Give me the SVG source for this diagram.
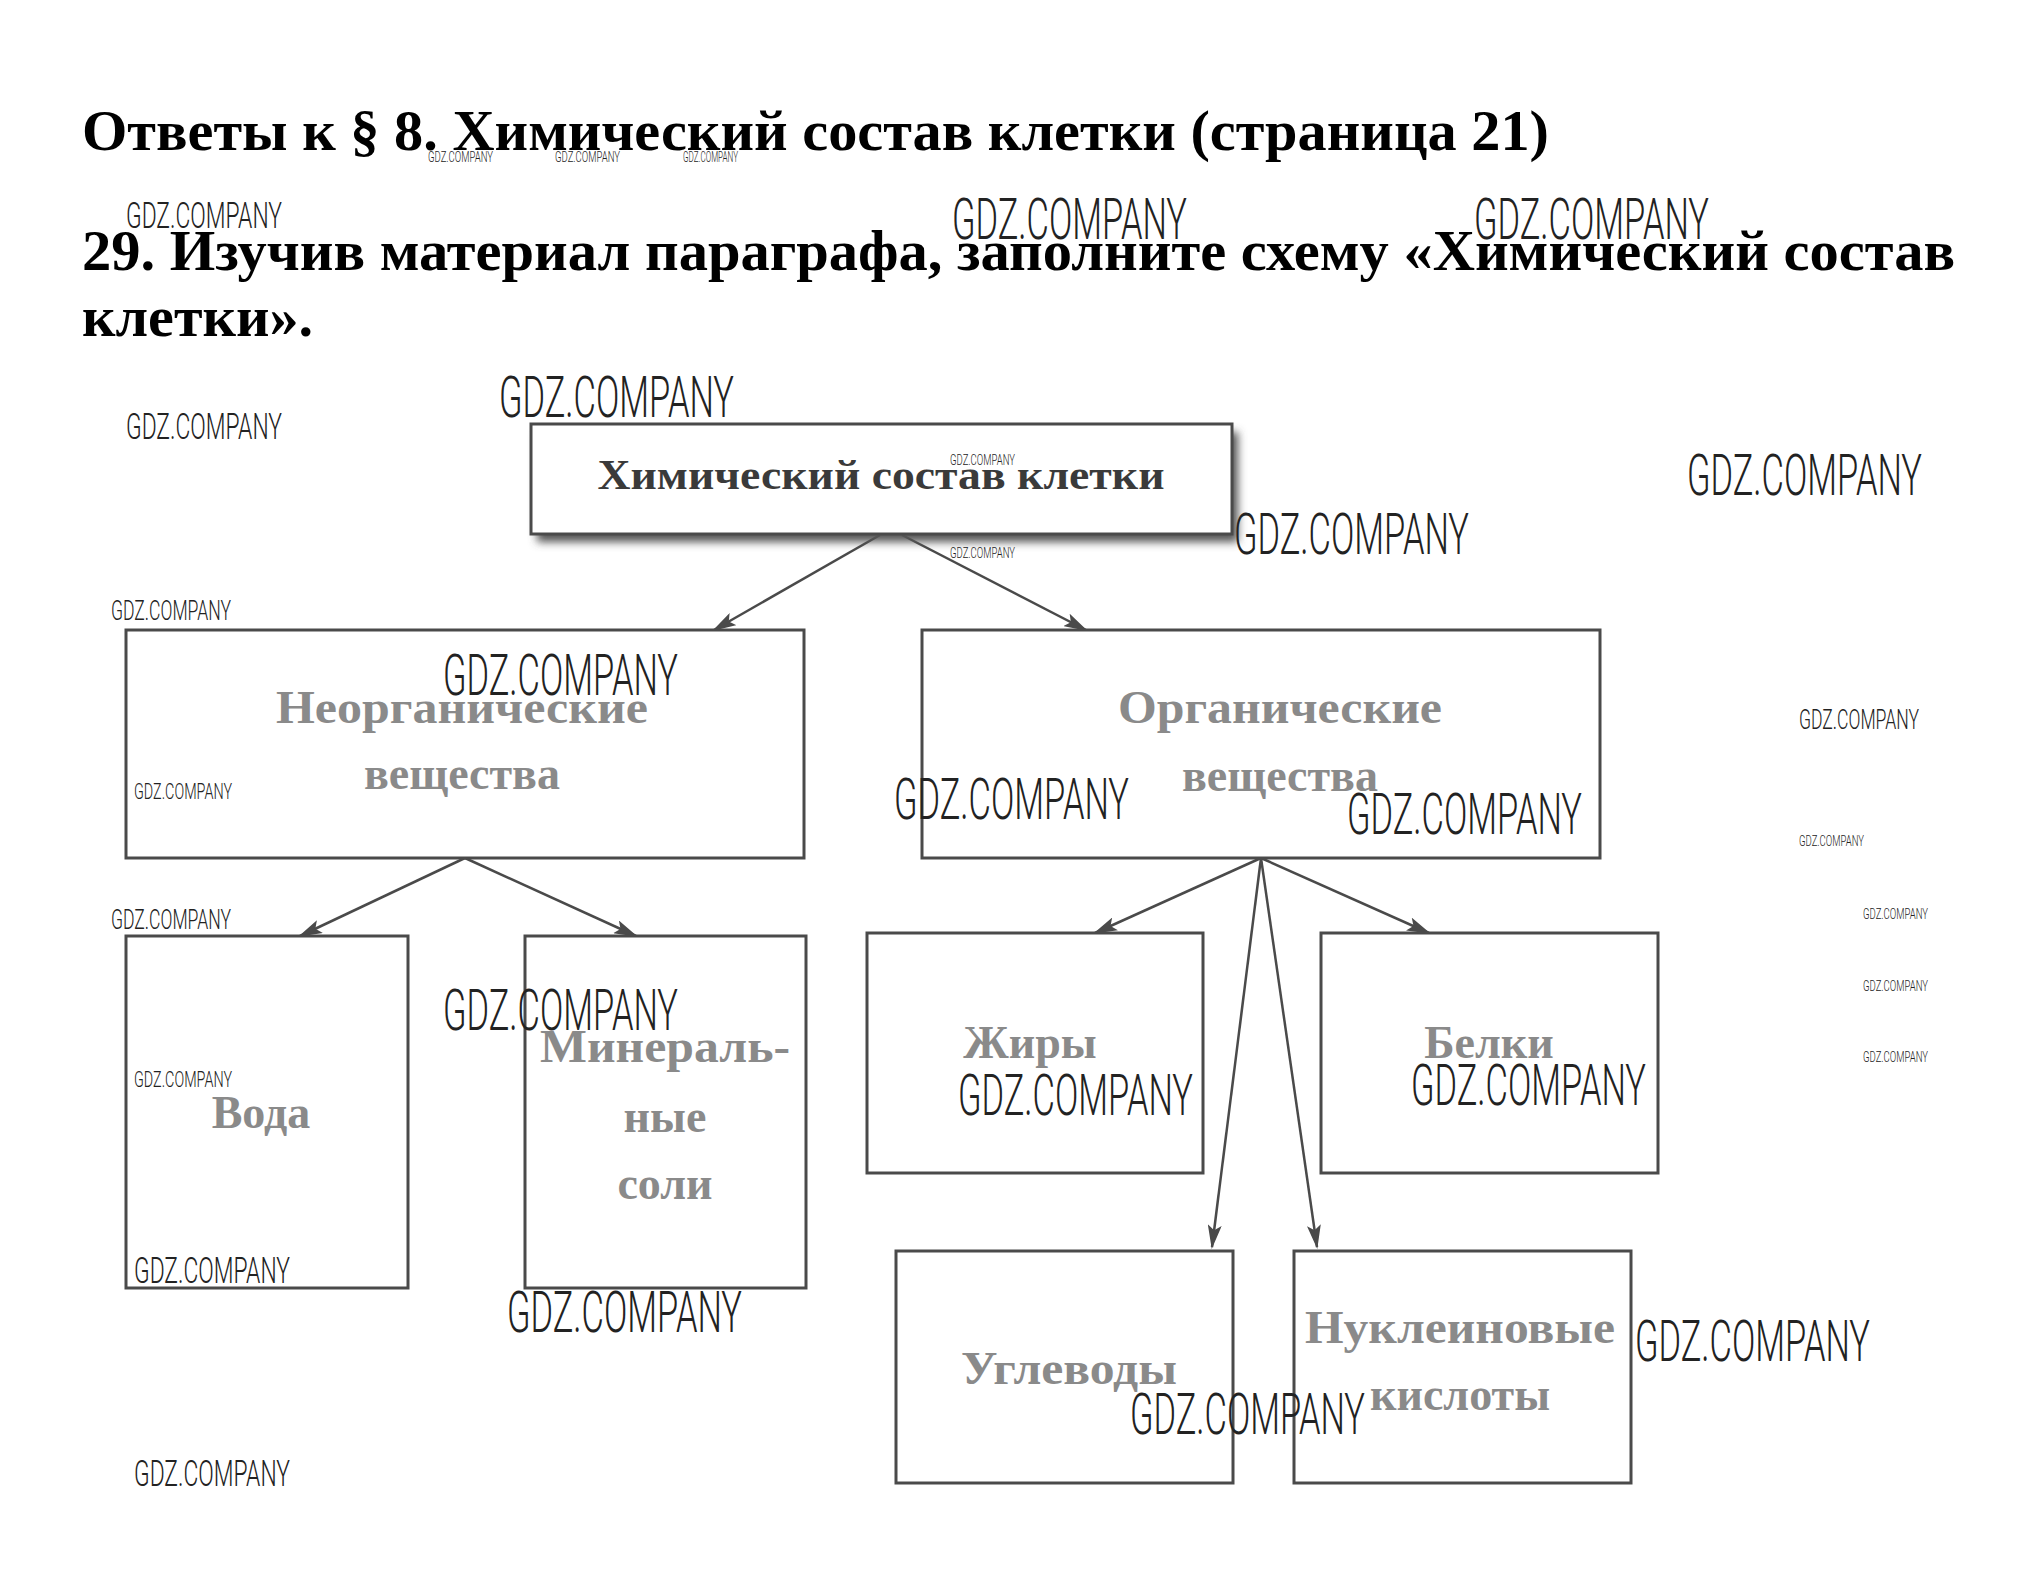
<svg xmlns="http://www.w3.org/2000/svg" width="2044" height="1595" viewBox="0 0 2044 1595">
<style>
.h{font-family:"Liberation Serif","Times New Roman",serif;font-weight:bold;font-size:56px;fill:#000}
.box{fill:#fff;stroke:#4a4a4a;stroke-width:3}
.lbl{font-family:"Liberation Serif","Times New Roman",serif;font-weight:bold;font-size:46px;fill:#8a8a8a;text-anchor:middle}
.top{font-family:"Liberation Serif","Times New Roman",serif;font-weight:bold;font-size:42px;fill:#3a3a3a;text-anchor:middle}
.con{stroke:#4a4a4a;stroke-width:2.5;fill:none}
.wm{font-family:Roboto,"Liberation Sans",sans-serif;font-weight:300;fill:#222}
.wl{font-size:57px}
.wmd{font-size:36px}
.ws{font-size:27px}
.wxs{font-size:22px}
.wt{font-size:15px}
</style>
<defs>
<marker id="ah" markerWidth="10" markerHeight="8" refX="9" refY="4" orient="auto" markerUnits="userSpaceOnUse" viewBox="0 0 10 8">
<path d="M0,0 L10,4 L0,8 Z" fill="#4a4a4a"/>
</marker>
<marker id="ahb" markerWidth="24" markerHeight="14" refX="22" refY="7" orient="auto" markerUnits="userSpaceOnUse" viewBox="0 0 24 14">
<path d="M0,0 L24,7 L0,14 L5,7 Z" fill="#4a4a4a"/>
</marker>
<filter id="sh" x="-10%" y="-20%" width="125%" height="160%">
<feGaussianBlur stdDeviation="4"/>
</filter>
</defs>
<rect width="2044" height="1595" fill="#fff"/>
<g id="heading">
<text class="h" x="82" y="150" textLength="1467" lengthAdjust="spacingAndGlyphs">Ответы к § 8. Химический состав клетки (страница 21)</text>
<text class="h" x="82" y="270" textLength="1873" lengthAdjust="spacingAndGlyphs">29. Изучив материал параграфа, заполните схему «Химический состав</text>
<text class="h" x="82" y="336" textLength="231" lengthAdjust="spacingAndGlyphs">клетки».</text>
</g>
<g id="connectors">
<line class="con" x1="880" y1="535" x2="714" y2="630" marker-end="url(#ahb)"/>
<line class="con" x1="902" y1="535" x2="1086" y2="630" marker-end="url(#ahb)"/>
<line class="con" x1="465" y1="858" x2="300" y2="936" marker-end="url(#ahb)"/>
<line class="con" x1="465" y1="858" x2="636" y2="936" marker-end="url(#ahb)"/>
<line class="con" x1="1261" y1="858" x2="1095" y2="933" marker-end="url(#ahb)"/>
<line class="con" x1="1261" y1="858" x2="1429" y2="933" marker-end="url(#ahb)"/>
<line class="con" x1="1261" y1="858" x2="1212" y2="1247" marker-end="url(#ahb)"/>
<line class="con" x1="1261" y1="858" x2="1317" y2="1247" marker-end="url(#ahb)"/>
</g>
<g id="n-root">
<rect x="537" y="432" width="701" height="110" fill="#555" filter="url(#sh)"/>
<rect class="box" x="531" y="424" width="701" height="110"/>
<text class="top" x="881" y="489" textLength="567" lengthAdjust="spacingAndGlyphs">Химический состав клетки</text>
</g>
<g id="n-inorganic">
<rect class="box" x="126" y="630" width="678" height="228"/>
<text class="lbl" x="462" y="723" textLength="372" lengthAdjust="spacingAndGlyphs">Неорганические</text>
<text class="lbl" x="462" y="789">вещества</text>
</g>
<g id="n-organic">
<rect class="box" x="922" y="630" width="678" height="228"/>
<text class="lbl" x="1280" y="723" textLength="324" lengthAdjust="spacingAndGlyphs">Органические</text>
<text class="lbl" x="1280" y="791">вещества</text>
</g>
<g id="n-water">
<rect class="box" x="126" y="936" width="282" height="352"/>
<text class="lbl" x="261" y="1128">Вода</text>
</g>
<g id="n-salts">
<rect class="box" x="525" y="936" width="281" height="352"/>
<text class="lbl" x="665" y="1062" textLength="250" lengthAdjust="spacingAndGlyphs">Минераль-</text>
<text class="lbl" x="665" y="1132">ные</text>
<text class="lbl" x="665" y="1199">соли</text>
</g>
<g id="n-fats">
<rect class="box" x="867" y="933" width="336" height="240"/>
<text class="lbl" x="1030" y="1058">Жиры</text>
</g>
<g id="n-proteins">
<rect class="box" x="1321" y="933" width="337" height="240"/>
<text class="lbl" x="1489" y="1058">Белки</text>
</g>
<g id="n-carbs">
<rect class="box" x="896" y="1251" width="337" height="232"/>
<text class="lbl" x="1069" y="1384" textLength="216" lengthAdjust="spacingAndGlyphs">Углеводы</text>
</g>
<g id="n-nucleic">
<rect class="box" x="1294" y="1251" width="337" height="232"/>
<text class="lbl" x="1460" y="1343" textLength="310" lengthAdjust="spacingAndGlyphs">Нуклеиновые</text>
<text class="lbl" x="1460" y="1410">кислоты</text>
</g>
<g id="watermarks" class="wm">
<text class="wl" x="952" y="239" textLength="235" lengthAdjust="spacingAndGlyphs">GDZ.COMPANY</text>
<text class="wl" x="1474" y="239" textLength="235" lengthAdjust="spacingAndGlyphs">GDZ.COMPANY</text>
<text class="wl" x="499" y="417" textLength="235" lengthAdjust="spacingAndGlyphs">GDZ.COMPANY</text>
<text class="wl" x="1687" y="495" textLength="235" lengthAdjust="spacingAndGlyphs">GDZ.COMPANY</text>
<text class="wl" x="1234" y="554" textLength="235" lengthAdjust="spacingAndGlyphs">GDZ.COMPANY</text>
<text class="wl" x="443" y="695" textLength="235" lengthAdjust="spacingAndGlyphs">GDZ.COMPANY</text>
<text class="wl" x="894" y="819" textLength="235" lengthAdjust="spacingAndGlyphs">GDZ.COMPANY</text>
<text class="wl" x="1347" y="834" textLength="235" lengthAdjust="spacingAndGlyphs">GDZ.COMPANY</text>
<text class="wl" x="443" y="1030" textLength="235" lengthAdjust="spacingAndGlyphs">GDZ.COMPANY</text>
<text class="wl" x="958" y="1115" textLength="235" lengthAdjust="spacingAndGlyphs">GDZ.COMPANY</text>
<text class="wl" x="1411" y="1105" textLength="235" lengthAdjust="spacingAndGlyphs">GDZ.COMPANY</text>
<text class="wl" x="507" y="1332" textLength="235" lengthAdjust="spacingAndGlyphs">GDZ.COMPANY</text>
<text class="wl" x="1635" y="1361" textLength="235" lengthAdjust="spacingAndGlyphs">GDZ.COMPANY</text>
<text class="wl" x="1130" y="1434" textLength="235" lengthAdjust="spacingAndGlyphs">GDZ.COMPANY</text>
<text class="wmd" x="126" y="228" textLength="156" lengthAdjust="spacingAndGlyphs">GDZ.COMPANY</text>
<text class="wmd" x="126" y="439" textLength="156" lengthAdjust="spacingAndGlyphs">GDZ.COMPANY</text>
<text class="wmd" x="134" y="1283" textLength="156" lengthAdjust="spacingAndGlyphs">GDZ.COMPANY</text>
<text class="wmd" x="134" y="1486" textLength="156" lengthAdjust="spacingAndGlyphs">GDZ.COMPANY</text>
<text class="ws" x="111" y="620" textLength="120" lengthAdjust="spacingAndGlyphs">GDZ.COMPANY</text>
<text class="ws" x="1799" y="729" textLength="120" lengthAdjust="spacingAndGlyphs">GDZ.COMPANY</text>
<text class="ws" x="111" y="929" textLength="120" lengthAdjust="spacingAndGlyphs">GDZ.COMPANY</text>
<text class="wxs" x="134" y="799" textLength="98" lengthAdjust="spacingAndGlyphs">GDZ.COMPANY</text>
<text class="wxs" x="134" y="1087" textLength="98" lengthAdjust="spacingAndGlyphs">GDZ.COMPANY</text>
<text class="wt" x="428" y="162" textLength="65" lengthAdjust="spacingAndGlyphs">GDZ.COMPANY</text>
<text class="wt" x="555" y="162" textLength="65" lengthAdjust="spacingAndGlyphs">GDZ.COMPANY</text>
<text class="wt" x="683" y="162" textLength="55" lengthAdjust="spacingAndGlyphs">GDZ.COMPANY</text>
<text class="wt" x="950" y="465" textLength="65" lengthAdjust="spacingAndGlyphs">GDZ.COMPANY</text>
<text class="wt" x="950" y="558" textLength="65" lengthAdjust="spacingAndGlyphs">GDZ.COMPANY</text>
<text class="wt" x="1799" y="846" textLength="65" lengthAdjust="spacingAndGlyphs">GDZ.COMPANY</text>
<text class="wt" x="1863" y="919" textLength="65" lengthAdjust="spacingAndGlyphs">GDZ.COMPANY</text>
<text class="wt" x="1863" y="991" textLength="65" lengthAdjust="spacingAndGlyphs">GDZ.COMPANY</text>
<text class="wt" x="1863" y="1062" textLength="65" lengthAdjust="spacingAndGlyphs">GDZ.COMPANY</text>
</g>
</svg>
